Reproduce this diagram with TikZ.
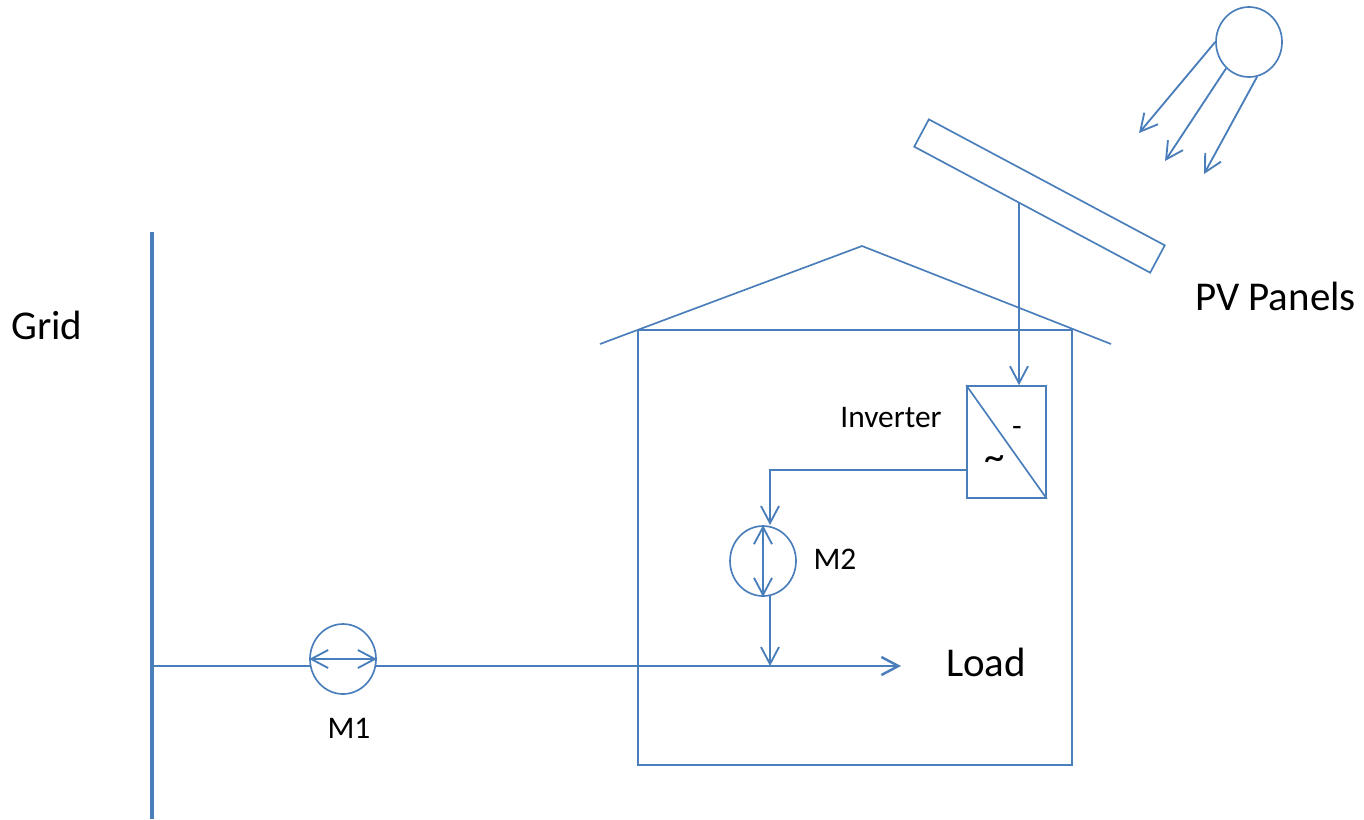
\documentclass[tikz,border=0pt]{standalone}
\usepackage{fontspec}
\setmainfont{Carlito}
\usetikzlibrary{arrows.meta,shapes.geometric,positioning,calc}
\definecolor{linecol}{HTML}{4A7EBB}

\begin{document}
\begin{tikzpicture}[
    x=0.02cm, y=-0.02cm,
    wire/.style={draw=linecol, line width=1.05pt},
    arr/.style={wire, -{Straight Barb[length=0.34cm, width=0.36cm]}},
    dbl/.style={wire, {Straight Barb[length=0.34cm, width=0.36cm]}-{Straight Barb[length=0.34cm, width=0.36cm]}},
    meter/.style={draw=linecol, line width=0.95pt, ellipse, inner sep=0pt, minimum width=1.32cm, minimum height=1.4cm},
    frame/.style={draw=linecol, line width=0.95pt, inner sep=0pt},
    bigl/.style={font=\fontsize{23.3}{26}\selectfont, text=black, inner sep=0pt},
    lbl/.style={font=\fontsize{17.9}{20}\selectfont, text=black, inner sep=0pt}
]
\useasboundingbox (0,0) rectangle (1364,819);

\node[meter] (sun) at (1249,42) {};
\node[frame, minimum width=5.35cm, minimum height=0.62cm, rotate=-28.1] (panel) at (1039.5,196) {};
\node[frame, minimum width=1.58cm, minimum height=2.24cm] (inv) at (1006.5,442) {};
\node[meter] (m2) at (763,561) {};
\node[meter] (m1) at (343,659) {};

\node[bigl] (grid) at (47,325) {Grid};
\node[bigl] (pv) at (1275.5,296) {PV Panels};
\node[bigl] (load) at (986,662) {Load};
\node[lbl] (invlbl) at (891,418) {Inverter};
\node[lbl] (m2lbl) at (835,559) {M2};
\node[lbl] (m1lbl) at (349,728) {M1};
\node[lbl] (dc) at (1017,431) {-};
\node[bigl] (ac) at (994.5,463) {\textasciitilde};

\coordinate (ray1) at (1139,133);
\coordinate (ray2) at (1165,161);
\coordinate (ray3) at (1204,174);
\coordinate (stem) at (1019,203);
\coordinate (invout) at (967,470);
\coordinate (m2in) at (770,525);
\coordinate (m2out) at (770,596);
\coordinate (join) at (770,666);
\coordinate (bustop) at (152,232);
\coordinate (busend) at (152,819);
\coordinate (tap) at (154,666);
\coordinate (m1w) at (311,666);
\coordinate (m1e) at (376,666);
\coordinate (feed) at (901,666);
\coordinate (eaveL) at (600,344);
\coordinate (ridge) at (862,246);
\coordinate (eaveR) at (1111,344);
\coordinate (wallNW) at (638,330);
\coordinate (wallSE) at (1072,765);

% sun
\draw[arr] (sun.180) -- (ray1);
\draw[arr] (sun.229) -- (ray2);
\draw[arr] (sun.283) -- (ray3);

% house
\draw[wire, line width=0.95pt] (eaveL) -- (ridge) -- (eaveR);
\draw[wire, line width=0.95pt] (wallNW) rectangle (wallSE);

% inverter and M2
\draw[wire, line width=0.95pt] (inv.north west) -- (inv.south east);
\draw[arr] (stem) -- (stem |- inv.north);
\draw[arr] (invout) -| (m2in);
\draw[dbl] (m2.north) -- (m2.south);
\draw[arr] (m2out) -- (join);

% grid and M1
\draw[draw=linecol, line width=2.8pt] (bustop) -- (busend);
\draw[wire, line width=0.8pt] (tap) -- (m1w);
\draw[dbl] (m1.west) -- (m1.east);
\draw[arr, line width=1.4pt] (m1e) -- (feed);
\end{tikzpicture}
\end{document}
